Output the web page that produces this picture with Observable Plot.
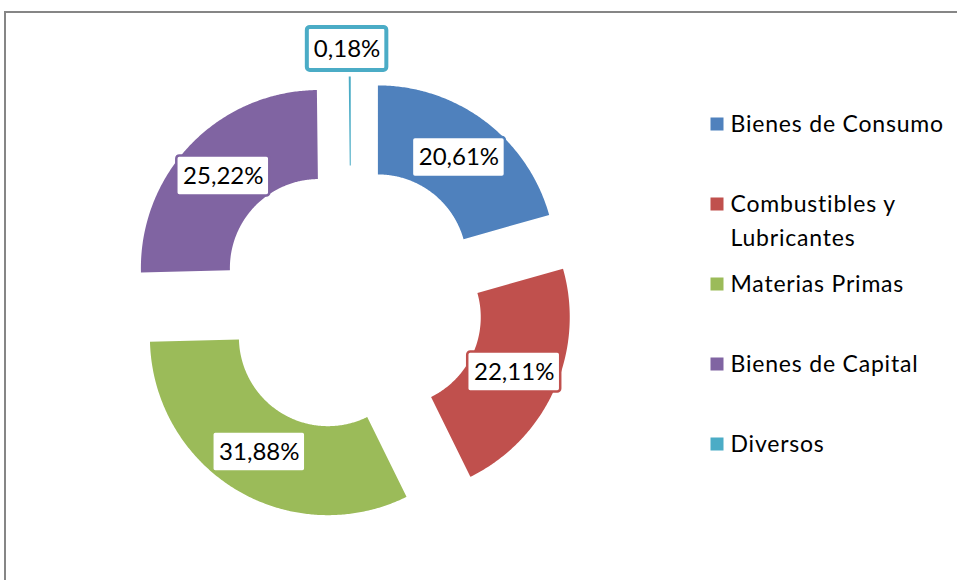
<!DOCTYPE html>
<html>
<head>
<meta charset="utf-8">
<script src="https://cdn.jsdelivr.net/npm/d3@7"></script>
<script src="https://cdn.jsdelivr.net/npm/@observablehq/plot@0.6"></script>
<style>
  html, body { margin: 0; padding: 0; background: #fff; }
  #wrap { position: relative; width: 957px; height: 580px; overflow: hidden; }
  #frame { position: absolute; left: 4px; top: 11px; right: -5px; bottom: -5px;
           border-top: 2px solid #868686; border-left: 2px solid #868686; pointer-events: none; }
</style>
</head>
<body>
<div id="wrap"><div id="chart"></div><div id="frame"></div></div>
<script>
// ---- data ----
const categories = ["Bienes de Consumo", "Combustibles y Lubricantes", "Materias Primas", "Bienes de Capital", "Diversos"];
const values = [20.61, 22.11, 31.88, 25.22, 0.18];
const legendLabels = ["Bienes de Consumo", "Combustibles y\nLubricantes", "Materias Primas", "Bienes de Capital", "Diversos"];
const colors = ["#4F81BD", "#C0504D", "#9BBB59", "#8064A2", "#4BACC6"];

// ---- layout constants (pixels) ----
const CX = 351, CY = 299, R = 178, RIN = 89, EXPLODE = 44.6;
const LEG_X = 717, LEG_Y0 = 124, LEG_STEP = 80, LEG_SQ = 13, LEG_FONT = 23;

const total = d3.sum(values);
let acc = 0;
const slices = categories.map((name, i) => {
  const a0 = acc / total * 2 * Math.PI;
  acc += values[i];
  const a1 = acc / total * 2 * Math.PI;
  const mid = (a0 + a1) / 2;
  return {name, value: values[i], a0, a1, mid,
          dx: EXPLODE * Math.sin(mid), dy: -EXPLODE * Math.cos(mid)};
});

// ring segment outlines (sampled along the angle of each slice)
const ring = [];
for (const s of slices) {
  const n = Math.max(2, Math.ceil((s.a1 - s.a0) / (Math.PI / 360)));
  for (let k = 0; k <= n; k++) {
    const a = s.a0 + (s.a1 - s.a0) * k / n;
    ring.push({
      name: s.name,
      x1: CX + s.dx + RIN * Math.sin(a), y1: CY + s.dy - RIN * Math.cos(a),
      x2: CX + s.dx + R * Math.sin(a),   y2: CY + s.dy - R * Math.cos(a)
    });
  }
}

// data labels
const labels = slices.map(s => {
  const small = s.value < 1;
  const rad = small ? R + EXPLODE + 28 : EXPLODE + (R + RIN) / 2;
  const text = s.value.toFixed(2).replace(".", ",") + "%";
  const w = 12 + text.length * 13.5, h = small ? 43 : 40;
  const x = CX + rad * Math.sin(s.mid) - (small ? 3 : 0);
  const y = CY - rad * Math.cos(s.mid);
  return {name: s.name, text, small, x, y, x1: x - w / 2, x2: x + w / 2, y1: y - h / 2, y2: y + h / 2};
});

// legend
const legend = categories.map((name, i) => {
  const y = LEG_Y0 + i * LEG_STEP;
  return {name, label: legendLabels[i], y, ty: y - 0.36 * LEG_FONT - 8,
          x1: LEG_X - LEG_SQ / 2, x2: LEG_X + LEG_SQ / 2, y1: y - LEG_SQ / 2, y2: y + LEG_SQ / 2};
});

const chart = Plot.plot({
  width: 957,
  height: 580,
  margin: 0,
  x: {domain: [0, 957], range: [0, 957], axis: null},
  y: {domain: [0, 580], range: [0, 580], axis: null},
  color: {domain: categories, range: colors},
  style: {fontFamily: "Lato, sans-serif", background: "transparent", color: "black"},
  marks: [
    Plot.area(ring, {x1: "x1", y1: "y1", x2: "x2", y2: "y2", z: "name", fill: "name"}),
    Plot.rect(labels.filter(d => !d.small), {x1: "x1", x2: "x2", y1: "y1", y2: "y2",
      fill: "white", stroke: "name", strokeWidth: 2.5, rx: 3}),
    Plot.rect(labels.filter(d => d.small), {x1: "x1", x2: "x2", y1: "y1", y2: "y2",
      fill: "white", stroke: "name", strokeWidth: 4, rx: 3}),
    Plot.text(labels, {x: "x", y: "y", text: "text", fontSize: 24, fill: "black"}),
    Plot.rect(legend, {x1: "x1", x2: "x2", y1: "y1", y2: "y2", fill: "name"}),
    Plot.text(legend, {x: LEG_X + 13, y: "ty", text: "label", textAnchor: "start",
      lineAnchor: "top", lineHeight: 1.46, fontSize: LEG_FONT, fill: "black"})
  ]
});
d3.select(chart).selectAll('g[font-size="23"]').attr("letter-spacing", "0.8px");
document.getElementById("chart").appendChild(chart);
</script>
</body>
</html>
